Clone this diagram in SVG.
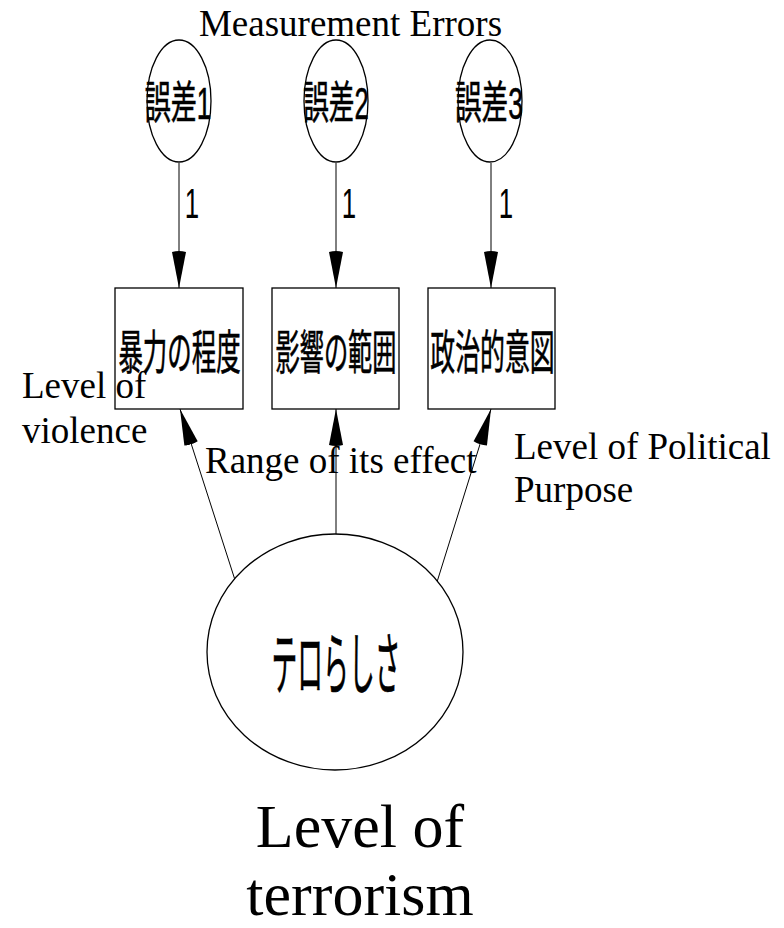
<svg xmlns="http://www.w3.org/2000/svg" width="784" height="928" viewBox="0 0 784 928">
<style>
.en{font-family:"Liberation Serif","Times New Roman",serif;fill:#000}
.jp{font-family:"Liberation Sans","Noto Sans CJK JP",sans-serif;fill:#000;stroke:#000;stroke-width:0.6;text-anchor:middle;font-weight:normal}
.one{font-family:"Liberation Sans",sans-serif;fill:#000;text-anchor:middle}
.shape{fill:#fff;stroke:#000;stroke-width:1.3}
.conn{stroke:#000;stroke-width:1;fill:none;marker-end:url(#ah)}
</style>
<defs>
<marker id="ah" markerUnits="userSpaceOnUse" viewBox="-37 -8 38 16" refX="0" refY="0" markerWidth="38" markerHeight="16" orient="auto">
<path d="M0,0 L-36,-7 Q-38,0 -36,7 Z" fill="#000"/>
</marker>
</defs>
<rect width="784" height="928" fill="#fff"/>
<g id="connectors">
<line class="conn" x1="179" y1="163" x2="179" y2="288"/>
<line class="conn" x1="336" y1="163" x2="336" y2="288"/>
<line class="conn" x1="491" y1="163" x2="491" y2="288"/>
<line class="conn" x1="235" y1="580" x2="180" y2="409"/>
<line class="conn" x1="336" y1="535" x2="336" y2="409"/>
<line class="conn" x1="437" y1="582" x2="491" y2="409"/>
<text class="one" font-size="43" transform="translate(192,218) scale(0.6,1)">1</text>
<text class="one" font-size="43" transform="translate(349,218) scale(0.6,1)">1</text>
<text class="one" font-size="43" transform="translate(506,218) scale(0.6,1)">1</text>
</g>
<g id="e1">
<ellipse class="shape" cx="179" cy="101" rx="32" ry="61"/>
<text class="jp" font-size="45" transform="translate(178,119) scale(0.58,1)">誤差1</text>
</g>
<g id="e2">
<ellipse class="shape" cx="336" cy="101" rx="32" ry="61"/>
<text class="jp" font-size="45" transform="translate(336,119) scale(0.57,1)">誤差2</text>
</g>
<g id="e3">
<ellipse class="shape" cx="490" cy="101" rx="32" ry="61"/>
<text class="jp" font-size="45" transform="translate(489,119) scale(0.59,1)">誤差3</text>
</g>
<g id="v1">
<rect class="shape" x="115" y="288" width="128" height="121"/>
<text class="jp" font-size="47" transform="translate(179.5,369) scale(0.52,1)">暴力の程度</text>
</g>
<g id="v2">
<rect class="shape" x="272" y="288" width="127" height="121"/>
<text class="jp" font-size="47" transform="translate(336,369) scale(0.515,1)">影響の範囲</text>
</g>
<g id="v3">
<rect class="shape" x="428" y="288" width="127" height="121"/>
<text class="jp" font-size="47" transform="translate(492.5,369) scale(0.53,1)">政治的意図</text>
</g>
<g id="f1">
<ellipse class="shape" cx="335" cy="652" rx="128" ry="118"/>
<text class="jp" font-size="68" transform="translate(336,689) scale(0.38,1)" stroke-width="1.2">テロらしさ</text>
</g>
<g id="labels">
<text class="en" x="350.5" y="36" font-size="37" text-anchor="middle">Measurement Errors</text>
<text class="en" x="22" y="398" font-size="37">Level of</text>
<text class="en" x="22" y="443" font-size="37">violence</text>
<text class="en" x="205" y="473" font-size="37">Range of its effect</text>
<text class="en" x="514" y="459" font-size="37">Level of Political</text>
<text class="en" x="514" y="502" font-size="37">Purpose</text>
<text class="en" x="360" y="847" font-size="62" text-anchor="middle">Level of</text>
<text class="en" x="360" y="915" font-size="62" text-anchor="middle">terrorism</text>
</g>
</svg>
